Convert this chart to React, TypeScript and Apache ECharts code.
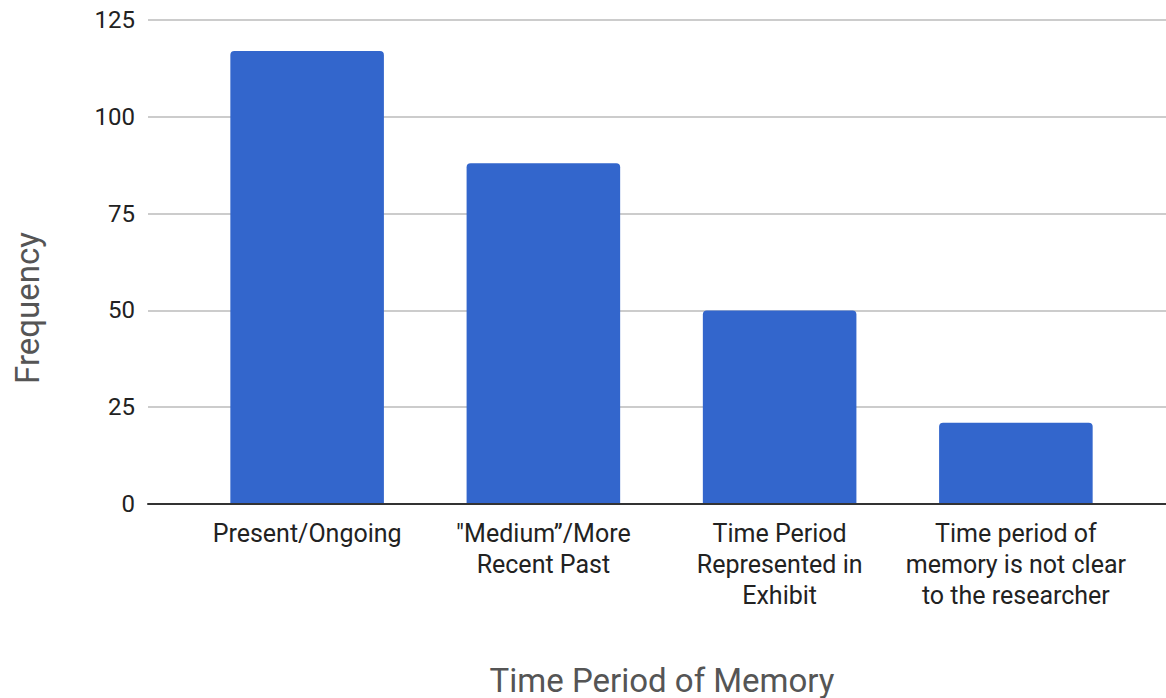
import React, { useEffect, useRef } from "react";
import * as echarts from "echarts";

const categories = [
  "Present/Ongoing",
  "\"Medium\u201D/More\nRecent Past",
  "Time Period\nRepresented in\nExhibit",
  "Time period of\nmemory is not clear\nto the researcher",
];
const frequency = [117, 88, 50, 21];
const yTicks = { min: 0, max: 125, interval: 25 };
const xTitle = "Time Period of Memory";
const yTitle = "Frequency";

export default function App() {
  const ref = useRef<HTMLDivElement>(null);

  useEffect(() => {
    if (!ref.current) return;
    const chart = echarts.init(ref.current, undefined, { renderer: "svg" });
    const font = "Roboto";
    chart.setOption({
      animation: false,
      backgroundColor: "#ffffff",
      textStyle: { fontFamily: font },
      // grid 0 carries the value scale, gridlines and baseline across the full width;
      // grid 1 holds the bars and category labels, inset from both sides
      grid: [
        { left: 148, right: 0, top: 20, bottom: 194, containLabel: false },
        { left: 189, right: 32, top: 20, bottom: 194, containLabel: false },
      ],
      xAxis: [
        {
          gridIndex: 0,
          type: "category",
          data: categories,
          axisLine: { show: true, lineStyle: { color: "#333333", width: 2 } },
          axisTick: { show: false },
          axisLabel: { show: false },
          splitLine: { show: false },
          z: 5,
        },
        {
          gridIndex: 1,
          type: "category",
          data: categories,
          axisLine: { show: false },
          axisTick: { show: false },
          axisLabel: {
            interval: 0,
            fontSize: 25,
            color: "#222222",
            lineHeight: 31,
            margin: 14,
            fontFamily: font,
          },
        },
      ],
      yAxis: [
        {
          gridIndex: 0,
          type: "value",
          min: yTicks.min,
          max: yTicks.max,
          interval: yTicks.interval,
          axisLine: { show: false },
          axisTick: { show: false },
          axisLabel: { fontSize: 24, color: "#222222", margin: 13, fontFamily: font },
          splitLine: { lineStyle: { color: "#cccccc", width: 2 } },
        },
        {
          gridIndex: 1,
          type: "value",
          min: yTicks.min,
          max: yTicks.max,
          interval: yTicks.interval,
          axisLine: { show: false },
          axisTick: { show: false },
          axisLabel: { show: false },
          splitLine: { show: false },
        },
      ],
      graphic: [
        {
          type: "text",
          x: 27,
          y: 308,
          rotation: Math.PI / 2,
          style: {
            text: yTitle,
            fontSize: 33,
            fontFamily: font,
            fill: "#555555",
            align: "center",
            verticalAlign: "middle",
          },
        },
        {
          type: "text",
          x: 662,
          y: 680,
          style: {
            text: xTitle,
            fontSize: 33,
            fontFamily: font,
            fill: "#555555",
            align: "center",
            verticalAlign: "middle",
          },
        },
      ],
      series: [
        {
          type: "bar",
          xAxisIndex: 1,
          yAxisIndex: 1,
          data: frequency,
          barWidth: "65%",
          itemStyle: { color: "#3366cc", borderRadius: [4, 4, 0, 0] },
        },
      ],
    });
    return () => chart.dispose();
  }, []);

  return (
    <div
      ref={ref}
      style={{ position: "absolute", left: 0, top: 0, width: 1166, height: 698 }}
    />
  );
}
